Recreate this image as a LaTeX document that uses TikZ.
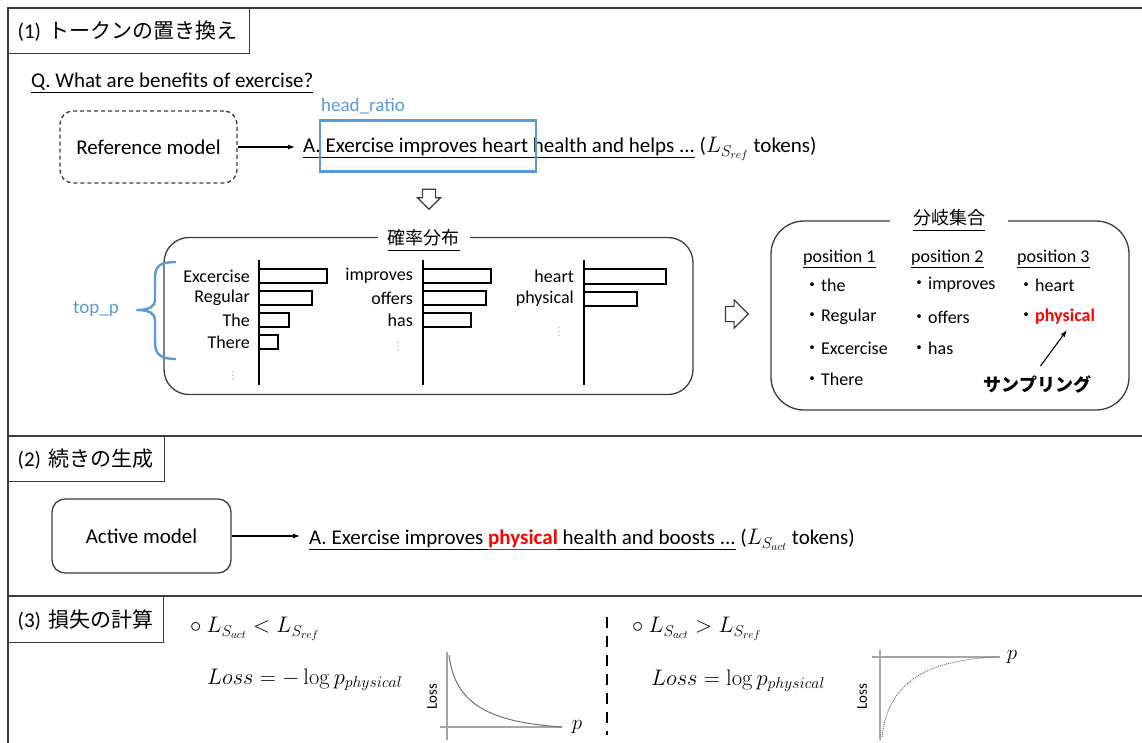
\RequirePackage{fix-cm}
\documentclass[tikz,border=0pt]{standalone}
\usepackage[no-math]{fontspec}
\setmainfont{Carlito}
\newfontfamily\jp{Noto Sans CJK JP}
\usetikzlibrary{shapes.arrows,arrows.meta}
\definecolor{oblue}{RGB}{91,155,213}
\definecolor{lineg}{RGB}{60,60,60}
\definecolor{ored}{RGB}{255,0,0}
\newcommand\uln[1]{\underline{\vphantom{py}#1}}
\newcommand\myfs[1]{\fontsize{#1}{#1}\selectfont}
\begin{document}
\begin{tikzpicture}[x=1pt,y=-1pt,
  every node/.style={font=\myfs{21}, inner sep=0pt},
  frame/.style={line width=1.6pt, draw=lineg},
  titlebox/.style={draw=lineg, line width=1.3pt, anchor=north west, minimum height=45pt, inner xsep=9pt, text width=#1, align=left},
  modelbox/.style={draw=lineg, line width=1.3pt, rounded corners=13pt},
  conn/.style={-{Latex[length=7pt,width=5pt]}, line width=1.1pt, draw=black},
  hollow/.style={single arrow, draw=lineg, line width=1.2pt, fill=white, single arrow head indent=0pt},
  bar/.style={draw=black, line width=1.4pt},
  axis/.style={draw=black, line width=1.8pt},
  lab/.style={anchor=east, font=\myfs{18}},
  item/.style={anchor=west, font=\myfs{18}},
  dots/.style={font=\myfs{9}, text=gray},
  mathtxt/.style={anchor=west, font=\myfs{22.5}},
  gaxis/.style={draw=black!35, line width=1.2pt},
  gcurve/.style={draw=black!55, line width=1pt},
  grouplabel/.style={fill=white, font=\jp\myfs{18}}
]
\useasboundingbox (0,0) rectangle (1142,742);
\begin{scope}
\clip (0,0) rectangle (1142,742);
\draw[frame] (8,760) -- (8,8) -- (1160,8);
\draw[frame] (8,436) -- (1160,436);
\draw[frame] (8,596) -- (1160,596);
\end{scope}

% ---------- (1)
\node[titlebox=223pt] (t1) at (8,8) {(1) {\jp トークンの置き換え}};
\node[anchor=west] (q) at (31,83) {\uln{Q. What are benefits of exercise?}};
\node[modelbox, dashed, dash pattern=on 4pt off 3pt, minimum width=177pt, minimum height=72pt] (ref) at (148.5,147) {Reference model};
\node[anchor=west] (ans1) at (303,149) {\uln{A. Exercise improves heart health and helps ...} ({\myfs{22.5}$L_{S_{ref}}$} tokens)};
\draw[conn, shorten >=8pt] (ref.east) -- (ref.east -| ans1.west);
\node[draw=oblue, line width=2.4pt, minimum width=216pt, minimum height=51pt] (head) at (428,146) {};
\node[anchor=west, text=oblue, font=\myfs{19}] (hr) at (321,106) {head\_ratio};
\node[hollow, shape border rotate=270, minimum height=20pt, inner sep=6pt, single arrow head extend=5pt] (darr) at (429,196) {};

% probability distribution
\node[draw=lineg, line width=1.3pt, rounded corners=25pt, minimum width=529pt, minimum height=157pt] (pbox) at (428.5,316) {};
\node[grouplabel, inner xsep=10pt] (pl) at (423.5,240) {\uln{確率分布}};
\draw[oblue, line width=2.4pt, line join=round]
  (176,262) .. controls (160,262) and (155,266) .. (155,278) -- (155,300)
  .. controls (155,306) and (150,310) .. (137,310)
  .. controls (150,310) and (155,314) .. (155,320) -- (155,342)
  .. controls (155,354) and (160,359) .. (176,359);
\node[text=oblue, font=\myfs{19}] (tp) at (96,309) {top\_p};

\node[lab] (a1) at (250,276) {Excercise};
\node[lab] (a2) at (250,298) {Regular};
\node[lab] (a3) at (250,320) {The};
\node[lab] (a4) at (250,342) {There};
\node[dots] (a5) at (233,373) {$\vdots$};
\draw[bar] (259,269) rectangle (327,283);
\draw[bar] (259,291) rectangle (312,305);
\draw[bar] (259,313) rectangle (289,327);
\draw[bar] (259,335) rectangle (278,349);
\draw[axis] (259,260) -- (259,385);

\node[lab] (b1) at (413,276) {improves};
\node[lab] (b2) at (413,298) {offers};
\node[lab] (b3) at (413,320) {has};
\node[dots] (b4) at (398,344) {$\vdots$};
\draw[bar] (423,269) rectangle (491,283);
\draw[bar] (423,291) rectangle (486,305);
\draw[bar] (423,313) rectangle (471,327);
\draw[axis] (423,260) -- (423,385);

\node[lab] (c1l) at (574,276) {heart};
\node[lab] (c2l) at (574,299) {physical};
\node[dots] (c3l) at (559,329) {$\vdots$};
\draw[bar] (584,269) rectangle (666,284);
\draw[bar] (584,292) rectangle (637,306);
\draw[axis] (584,260) -- (584,385);

\node[hollow, minimum height=21pt, inner sep=7pt, single arrow head extend=6.5pt] (rarr) at (733,314) {};

% branch set
\node[draw=lineg, line width=1.3pt, rounded corners=33pt, minimum width=358pt, minimum height=189pt] (bbox) at (950,315.5) {};
\node[grouplabel, inner xsep=23pt] (bl) at (949,220) {\uln{分岐集合}};
\node[item] (p1) at (803,259) {\uln{position 1}};
\node[item] (p2) at (911,259) {\uln{position 2}};
\node[item] (p3) at (1017,259) {\uln{position 3}};
\node[item] (i11) at (803,285) {{\jp ・}the};
\node[item] (i12) at (803,317) {{\jp ・}Regular};
\node[item] (i13) at (803,348) {{\jp ・}Excercise};
\node[item] (i14) at (803,379) {{\jp ・}There};
\node[item] (i21) at (910,285) {{\jp ・}improves};
\node[item] (i22) at (910,317) {{\jp ・}offers};
\node[item] (i23) at (910,348) {{\jp ・}has};
\node[item] (i31) at (1017,285) {{\jp ・}heart};
\node[item] (i32) at (1017,317) {{\jp ・}\textcolor{ored}{\textbf{physical}}};
\node[font=\jp\bfseries\myfs{18}] (samp) at (1037.5,384) {サンプリング};
\coordinate (sampEnd) at (1067,330);
\draw[conn] (samp.north) ++(3,-9) -- (sampEnd);

% ---------- (2)
\node[titlebox=138pt] (t2) at (8,436) {(2) {\jp 続きの生成}};
\node[modelbox, minimum width=179pt, minimum height=74pt] (act) at (141.5,536) {Active model};
\node[anchor=west] (ans2) at (309,540) {\uln{A. Exercise improves }\textcolor{ored}{\uln{\textbf{physical}}}\uln{ health and boosts ...} ({\myfs{22.5}$L_{S_{act}}$} tokens)};
\draw[conn, shorten >=9pt] (act.east) -- (act.east -| ans2.west);

% ---------- (3)
\node[titlebox=137pt, minimum height=46pt] (t3) at (8,596) {(3) {\jp 損失の計算}};
\node[mathtxt] (cond1) at (190,629) {$\circ\ L_{S_{act}} < L_{S_{ref}}$};
\node[mathtxt] (eq1) at (207,680) {$Loss = -\log p_{physical}$};
\draw[gaxis] (447,652) -- (447,740);
\draw[gaxis] (440,727) -- (562,727);
\draw[gcurve] (449,655) .. controls (455,705) and (490,722) .. (562,727);
\node[rotate=90, font=\myfs{15}] (ll1) at (432,697) {Loss};
\node (pp1) at (577,727) {$p$};

\draw[line width=2.6pt, dash pattern=on 11pt off 8pt] (607,617) -- (607,735);

\node[mathtxt] (cond2) at (632,629) {$\circ\ L_{S_{act}} > L_{S_{ref}}$};
\node[mathtxt] (eq2) at (651,681) {$Loss = \log p_{physical}$};
\draw[gaxis] (880,650) -- (880,740);
\draw[gaxis] (872,657) -- (1000,657);
\draw[gcurve, densely dotted] (882,737) .. controls (888,680) and (930,660) .. (997,657);
\node[rotate=90, font=\myfs{15}] (ll2) at (862,697) {Loss};
\node (pp2) at (1012,657) {$p$};
\end{tikzpicture}
\end{document}
